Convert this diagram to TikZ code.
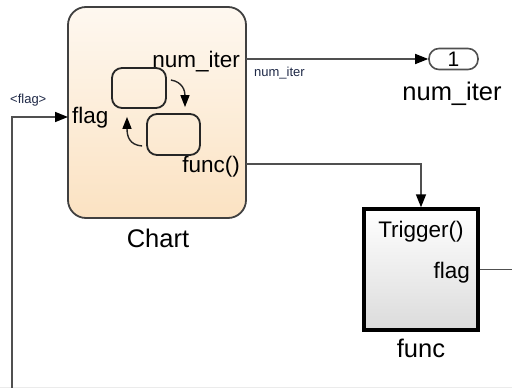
\documentclass[tikz,border=0pt]{standalone}
\usepackage{fontspec}
\setmainfont{Liberation Sans}
\usetikzlibrary{arrows.meta}

\definecolor{wirecol}{RGB}{80,80,80}
\definecolor{chartedge}{RGB}{64,64,64}
\definecolor{charttop}{RGB}{254,248,240}
\definecolor{chartbot}{RGB}{251,226,194}
\definecolor{sigcol}{RGB}{30,40,70}

\tikzset{
  wire/.style={draw=wirecol,line width=1.6pt},
  tip/.style={-{Triangle[length=13pt,width=10pt,color=black]}},
  chartbox/.style={draw=chartedge,line width=1.8pt,rounded corners=18pt,
    top color=charttop,bottom color=chartbot,minimum width=178pt,minimum height=211pt},
  statebox/.style={draw=black!85,line width=1.8pt,rounded corners=10pt,
    minimum width=54pt,minimum height=40pt},
  trans/.style={draw=black!85,line width=1.4pt,-{Triangle[length=12pt,width=9pt,color=black]}},
  fcnbox/.style={draw=black,line width=3.4pt,top color=white,bottom color=black!14,
    minimum width=114pt,minimum height=121pt},
  outport/.style={draw=wirecol,line width=1.6pt,fill=white,rounded corners=10pt,
    minimum width=49pt,minimum height=21pt,inner sep=0pt},
  txt/.style={inner sep=0pt,font=\fontsize{22.5}{26}\selectfont},
  blocklbl/.style={inner sep=0pt,anchor=base,font=\fontsize{25.5}{30}\selectfont},
  siglbl/.style={inner sep=0pt,text=sigcol,font=\fontsize{13}{15}\selectfont}
}

\begin{document}
\begin{tikzpicture}[x=1pt,y=-1pt]
\useasboundingbox (0,0) rectangle (512,388);

\draw[black!8,line width=1pt] (0,387)--(512,387);

% Chart block and its ports
\node[chartbox] (chart) at (157,112.5) {};
\node[txt,anchor=base east] (pitr) at (240,67) {num\_iter};
\node[txt,anchor=base west] (pflag) at (72,123) {flag};
\node[txt,anchor=base east] (pfunc) at (240,172) {func()};
\node[blocklbl] (chartlbl) at (158,247) {Chart};

% the two states inside the chart
\node[statebox] (s1) at (139,88) {};
\node[statebox,minimum width=53pt,minimum height=41pt] (s2) at (173.5,134.5) {};
\draw[trans] ([shift={(4,-8)}]s1.east) .. controls ([shift={(16,-6)}]s1.east)
  and ([shift={(11.5,-22)}]s2.north) .. ([shift={(11.5,-6)}]s2.north);
\draw[trans] ([shift={(-4,11.5)}]s2.west) .. controls ([shift={(-17,10.5)}]s2.west)
  and ([shift={(-12,27)}]s1.south) .. ([shift={(-12,8)}]s1.south);

% outport
\node[outport,font=\fontsize{21}{24}\selectfont] (out1) at (453.5,59) {1};
\node[blocklbl] (outlbl) at (452,100) {num\_iter};

% function-call subsystem
\node[fcnbox] (fcn) at (421,269.5) {};
\node[txt,anchor=base] (trig) at (421,237) {Trigger()};
\node[txt,anchor=base east] (fflag) at (470,278) {flag};
\node[blocklbl] (fcnlbl) at (421,357) {func};

% signal lines
\coordinate (itrport) at (246,59);
\coordinate (funcport) at (246,164);
\coordinate (flagport) at (68,117);
\coordinate (flagsrc) at (12,392);
\coordinate (flagout) at (513,269.5);

\draw[wire,tip] (itrport) -- (out1.west);
\node[siglbl,anchor=base west] (sigitr) at (254,76) {num\_iter};
\draw[wire,tip] (funcport) -| (fcn.north);
\draw[wire] (fcn.east) -- (flagout);
\draw[wire,tip] (flagsrc) |- (flagport);
\node[siglbl,anchor=base west] (sigflag) at (10,103) {<flag>};

\end{tikzpicture}
\end{document}
